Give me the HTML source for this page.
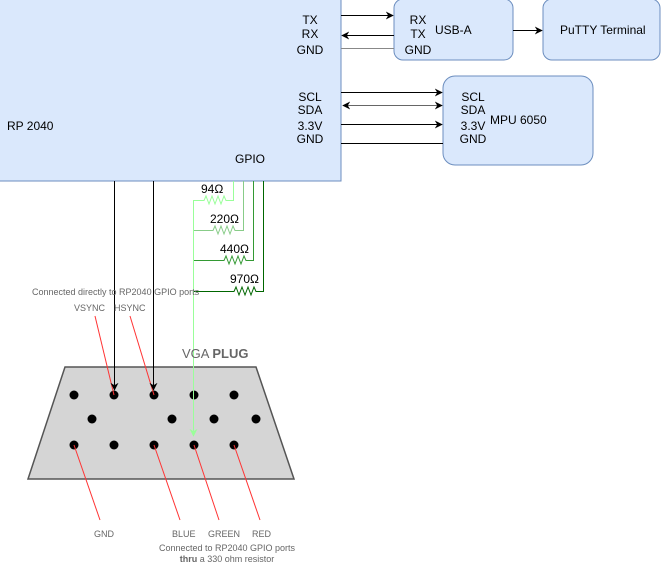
<!DOCTYPE html>
<html><head><meta charset="utf-8"><style>body{margin:0;background:#fff}svg{display:block}text{font-family:"Liberation Sans",sans-serif}</style></head><body>
<svg width="664" height="580" viewBox="0 0 664 580" xmlns="http://www.w3.org/2000/svg">
<defs>
<marker id="a" viewBox="0 0 10 10" refX="9" refY="5" markerWidth="8" markerHeight="8" orient="auto-start-reverse"><path d="M0,0 L10,5 L0,10 L3,5z" fill="#000"/></marker>
<marker id="g" viewBox="0 0 10 10" refX="9" refY="5" markerWidth="8" markerHeight="8" orient="auto"><path d="M0,0 L10,5 L0,10 L3,5z" fill="#9f9"/></marker>
</defs>
<rect x="-1" y="-1" width="342" height="182" fill="#dae8fc" stroke="#6c8ebf"/>
<rect x="394" y="-1" width="119" height="61" rx="9" fill="#dae8fc" stroke="#6c8ebf"/>
<rect x="543" y="-1" width="117" height="61" rx="9" fill="#dae8fc" stroke="#6c8ebf"/>
<rect x="443" y="76" width="150" height="89" rx="12" fill="#dae8fc" stroke="#6c8ebf"/>
<g font-size="12" fill="#000">
<text x="7" y="130">RP 2040</text>
<text x="235" y="163">GPIO</text>
<g text-anchor="middle"><text x="310" y="24">TX</text><text x="310" y="38">RX</text><text x="310" y="54">GND</text>
<text x="310" y="101">SCL</text><text x="310" y="114">SDA</text><text x="310" y="130">3.3V</text><text x="310" y="143">GND</text>
<text x="418" y="24">RX</text><text x="418" y="38">TX</text><text x="418" y="54">GND</text>
<text x="473" y="101">SCL</text><text x="473" y="114">SDA</text><text x="473" y="130">3.3V</text><text x="473" y="143">GND</text></g>
<text x="435" y="34">USB-A</text><text x="490" y="124">MPU 6050</text><text x="560" y="34">PuTTY Terminal</text>
</g>
<g stroke="#000" fill="none">
<line x1="341" y1="15.5" x2="393" y2="15.5" marker-end="url(#a)"/>
<line x1="394" y1="35.5" x2="342" y2="35.5" marker-end="url(#a)"/>
<line x1="341" y1="48.5" x2="394" y2="48.5" stroke="#888"/>
<line x1="513" y1="30.5" x2="542" y2="30.5" marker-end="url(#a)"/>
<line x1="341" y1="92.5" x2="442" y2="92.5" marker-end="url(#a)"/>
<line x1="343" y1="105.5" x2="442" y2="105.5" stroke="#666" marker-start="url(#a)" marker-end="url(#a)"/>
<line x1="341" y1="124.5" x2="442" y2="124.5" marker-end="url(#a)"/>
<line x1="341" y1="143.5" x2="443" y2="143.5"/>
</g>
<g fill="none" stroke-width="1">
<polyline stroke="#9f9" points="233.5,181 233.5,200.5 226,200.5 224,196 221,204 218,196 215,204 212,196 209,204 206,196 204,200.5 193.5,200.5"/>
<polyline stroke="#8c8" points="243.5,181 243.5,230.5 235,230.5 233,226 230,234 227,226 224,234 221,226 218,234 215,226 213,230.5 193.5,230.5"/>
<polyline stroke="#393" points="253.5,181 253.5,260.5 246,260.5 244,256 241,264 238,256 235,264 232,256 229,264 226,256 224,260.5 193.5,260.5"/>
<polyline stroke="#060" points="263.5,181 263.5,291.5 256,291.5 254,287 251,295 248,287 245,295 242,287 239,295 236,287 234,291.5 193.5,291.5"/>
</g>
<g font-size="12" fill="#000"><text x="201" y="193">94Ω</text><text x="210" y="223">220Ω</text><text x="220" y="253">440Ω</text><text x="230" y="283">970Ω</text></g>
<polygon points="65,367 256,367 294,479 28,479" fill="#d5d5d5" stroke="#555" stroke-width="1.5"/>
<g fill="#000">
<circle cx="74" cy="395" r="4.5"/><circle cx="114" cy="395" r="4.5"/><circle cx="154" cy="395" r="4.5"/><circle cx="194" cy="395" r="4.5"/><circle cx="234" cy="395" r="4.5"/>
<circle cx="92" cy="419" r="4.5"/><circle cx="172" cy="419" r="4.5"/><circle cx="214" cy="419" r="4.5"/><circle cx="256" cy="419" r="4.5"/>
<circle cx="74" cy="445" r="4.5"/><circle cx="114" cy="445" r="4.5"/><circle cx="154" cy="445" r="4.5"/><circle cx="194" cy="445" r="4.5"/><circle cx="234" cy="445" r="4.5"/>
</g>
<line x1="193.5" y1="200" x2="193.5" y2="436" stroke="#9f9" marker-end="url(#g)"/>
<g stroke="#f33" stroke-width="1">
<line x1="95" y1="316" x2="114" y2="395"/><line x1="130" y1="316" x2="154" y2="395"/>
<line x1="74" y1="445" x2="100" y2="520"/><line x1="154" y1="445" x2="180" y2="520"/><line x1="194" y1="445" x2="219" y2="520"/><line x1="234" y1="445" x2="260" y2="520"/>
</g>
<g stroke="#000" fill="none">
<line x1="114.5" y1="181" x2="114.5" y2="390" marker-end="url(#a)"/>
<line x1="153.5" y1="181" x2="153.5" y2="390" marker-end="url(#a)"/>
</g>
<g font-size="9" fill="#666">
<text x="32" y="295">Connected directly to RP2040 GPIO ports</text>
<text x="74" y="311">VSYNC</text><text x="114" y="311">HSYNC</text>
<text x="94" y="537">GND</text><text x="172" y="537">BLUE</text><text x="208" y="537">GREEN</text><text x="252" y="537">RED</text>
<text x="227" y="551" text-anchor="middle">Connected to RP2040 GPIO ports</text>
<text x="227" y="562" text-anchor="middle"><tspan font-weight="bold">thru</tspan> a 330 ohm resistor</text>
</g>
<text x="182" y="358" font-size="13" fill="#666">VGA <tspan font-weight="bold">PLUG</tspan></text>
</svg>
</body></html>
